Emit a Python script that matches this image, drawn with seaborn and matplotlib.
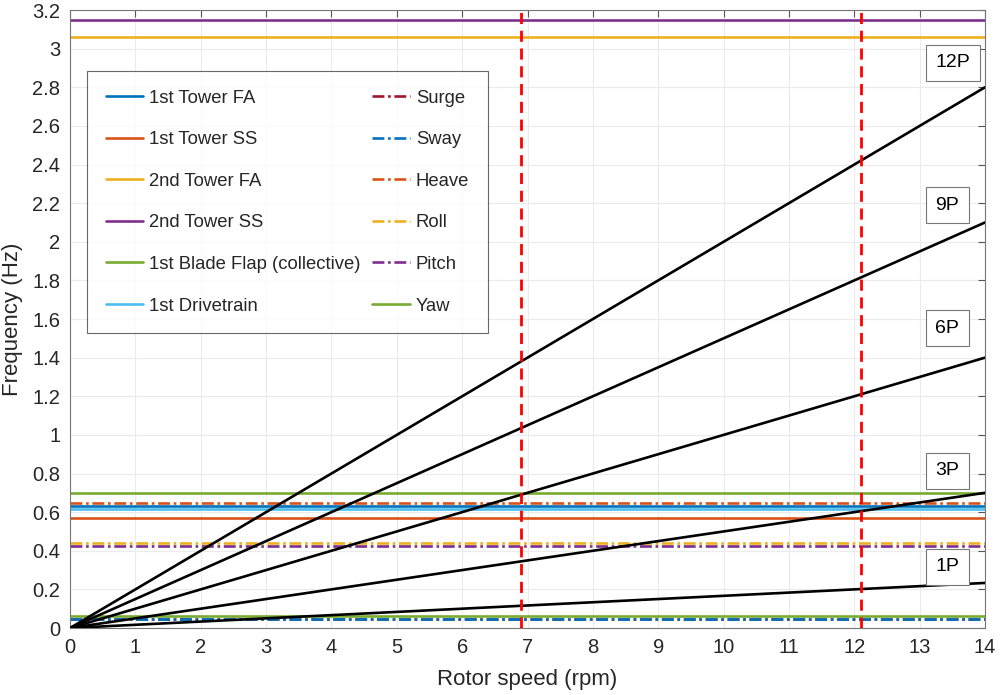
import numpy as np
import pandas as pd
import matplotlib
matplotlib.use("Agg")
import matplotlib.pyplot as plt
import seaborn as sns

# ---------------- data ----------------
rpm_range = [0, 14]
harmonics = [1, 3, 6, 9, 12]
harmonic_labels = ["1P", "3P", "6P", "9P", "12P"]
label_y = [0.316, 0.813, 1.553, 2.19, 2.926]
label_x = 13.24

struct_names = ["1st Tower FA", "1st Tower SS", "2nd Tower FA", "2nd Tower SS",
                "1st Blade Flap (collective)", "1st Drivetrain"]
struct_freqs = [0.63, 0.57, 3.06, 3.15, 0.70, 0.615]
struct_colors = ["#0072BD", "#D95319", "#EDB120", "#7E2F8E", "#77AC30", "#4DBEEE"]

platform_names = ["Surge", "Sway", "Heave", "Roll", "Pitch", "Yaw"]
platform_freqs = [0.045, 0.045, 0.647, 0.44, 0.423, 0.062]
platform_colors = ["#A2142F", "#0072BD", "#D95319", "#EDB120", "#7E2F8E", "#77AC30"]
platform_styles = ["dashdot", "dashdot", "dashdot", "dashdot", "dashdot", "solid"]

rated_rpm = [6.9, 12.1]

x_ticks = list(range(0, 15))
y_ticks = [round(0.2 * i, 1) for i in range(17)]

# ---------------- style ----------------
sns.set_theme(style="white")
plt.rcParams["font.family"] = ["Liberation Sans", "DejaVu Sans"]
text_col = "#262626"

fig = plt.figure(figsize=(10.02, 6.95), dpi=100)
ax = fig.add_axes([0.0699, 0.0964, 0.9132, 0.8892])

dashdot = (0, (4.5, 1.4, 1.0, 1.4))
LW = 1.9

handles = []
# structural modes
for name, f, c in zip(struct_names, struct_freqs, struct_colors):
    df = pd.DataFrame({"rpm": rpm_range, "freq": [f, f]})
    sns.lineplot(data=df, x="rpm", y="freq", color=c, ax=ax, legend=False)
    ln = ax.lines[-1]
    ln.set_linewidth(LW)
    ln.set_label(name)
    handles.append(ln)

# platform modes
for name, f, c, s in zip(platform_names, platform_freqs, platform_colors, platform_styles):
    df = pd.DataFrame({"rpm": rpm_range, "freq": [f, f]})
    ls = dashdot if s == "dashdot" else "-"
    sns.lineplot(data=df, x="rpm", y="freq", color=c, ax=ax, legend=False)
    ln = ax.lines[-1]
    ln.set_linewidth(LW)
    ln.set_linestyle(ls)
    ln.set_label(name)
    handles.append(ln)

# rotor harmonic lines
rows = []
for h, lab in zip(harmonics, harmonic_labels):
    for r in rpm_range:
        rows.append({"rpm": r, "freq": h * r / 60.0, "harm": lab})
hdf = pd.DataFrame(rows)
n_before = len(ax.lines)
sns.lineplot(data=hdf, x="rpm", y="freq", units="harm", estimator=None,
             color="black", ax=ax, legend=False)
for ln in ax.lines[n_before:]:
    ln.set_linewidth(1.9)
    ln.set_zorder(3)

# rated speed range
for r in rated_rpm:
    ax.axvline(r, color="#FF0000", lw=2.0, linestyle=(0, (4, 2.4)), zorder=5)

# harmonic labels
for lab, y in zip(harmonic_labels, label_y):
    ax.text(label_x, y, lab, ha="left", va="center", fontsize=14, color="black",
            bbox=dict(boxstyle="square,pad=0.5", fc="white", ec="#777777", lw=0.8),
            zorder=6)

ax.set_xlim(0, 14)
ax.set_ylim(0, 3.2)
ax.set_xticks(x_ticks)
ax.set_yticks(y_ticks)
ax.set_xticklabels([f"{v:g}" for v in x_ticks])
ax.set_yticklabels([f"{v:g}" for v in y_ticks])
ax.tick_params(direction="in", length=5, width=0.8, top=True, right=True,
               colors="#555555", labelcolor=text_col, labelsize=14.5, pad=7)
ax.grid(True, color="#ebebeb", lw=0.8)
ax.set_axisbelow(True)
for sp in ax.spines.values():
    sp.set_color("#777777")
    sp.set_linewidth(0.8)

ax.set_xlabel("Rotor speed (rpm)", fontsize=16, color=text_col, labelpad=9)
ax.set_ylabel("Frequency (Hz)", fontsize=16, color=text_col, labelpad=7)

leg = ax.legend(handles=handles, ncol=2, loc="upper left",
                bbox_to_anchor=(0.0186, 0.901), fontsize=13.3,
                frameon=True, fancybox=False, edgecolor="#444444",
                labelspacing=1.33, handlelength=2.05, handletextpad=0.3,
                columnspacing=0.65, borderpad=1.0, borderaxespad=0)
leg.get_frame().set_linewidth(0.8)
for t in leg.get_texts():
    t.set_color(text_col)

fig.savefig("out.png", dpi=100)
